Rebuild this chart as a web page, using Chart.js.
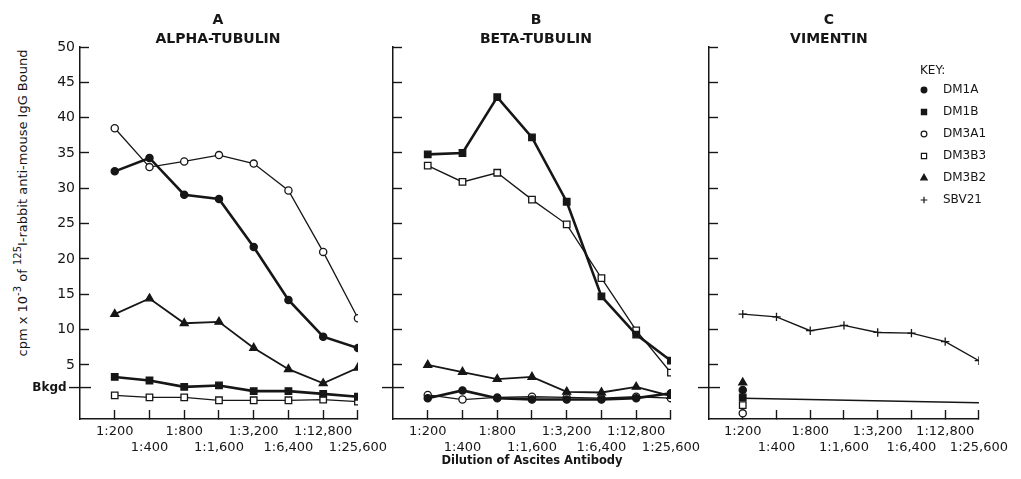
<!DOCTYPE html>
<html>
<head>
<meta charset="utf-8">
<title>Ascites antibody binding: alpha-tubulin, beta-tubulin, vimentin</title>
<script src="https://cdn.jsdelivr.net/npm/chart.js"></script>
<style>
  html, body { margin: 0; padding: 0; background: #fff; }
  #wrap { position: relative; width: 1021px; height: 479px; overflow: hidden; }
  canvas { position: absolute; top: 0; }
  #yTitle {
    position: absolute; left: 22px; top: 203px;
    transform: translate(-50%, -50%) rotate(-90deg);
    white-space: nowrap; font: 13px "DejaVu Sans"; color: #161616;
  }
  #yTitle sup { font-size: 10px; vertical-align: 6px; line-height: 0; }
</style>
</head>
<body>
<div id="wrap">
  <div id="yTitle">cpm x 10<sup>-3</sup> of <sup>125</sup>I-rabbit anti-mouse IgG Bound</div>
  <canvas id="alphaChart" width="400" height="479" style="left:0"></canvas>
  <canvas id="betaChart" width="400" height="479" style="left:313px"></canvas>
  <canvas id="vimentinChart" width="392" height="479" style="left:629px"></canvas>
</div>
<script>
// dilution steps on the x axis
const dilutions = ["1:200", "1:400", "1:800", "1:1,600", "1:3,200", "1:6,400", "1:12,800", "1:25,600"];

// background level and y ticks (cpm x 10^-3)
const BKGD = 1.8;
const yTicks = [BKGD, 5, 10, 15, 20, 25, 30, 35, 40, 45, 50];

// A: alpha-tubulin
const alphaDM1A  = [32.4, 34.3, 29.1, 28.5, 21.7, 14.2, 9.0, 7.4];
const alphaDM1B  = [3.3, 2.8, 1.9, 2.1, 1.3, 1.3, 0.9, 0.5];
const alphaDM3A1 = [38.5, 33.0, 33.8, 34.7, 33.5, 29.7, 21.0, 11.6];
const alphaDM3B3 = [0.7, 0.4, 0.4, 0.0, 0.0, 0.0, 0.1, -0.2];
const alphaDM3B2 = [12.2, 14.4, 10.9, 11.1, 7.4, 4.4, 2.4, 4.6];

// B: beta-tubulin
const betaDM1A  = [0.3, 1.4, 0.3, 0.1, 0.1, 0.1, 0.3, 1.0];
const betaDM1B  = [34.8, 35.0, 42.9, 37.2, 28.1, 14.7, 9.3, 5.6];
const betaDM3A1 = [0.75, 0.1, 0.4, 0.5, 0.4, 0.3, 0.5, 0.3];
const betaDM3B3 = [33.2, 30.9, 32.2, 28.4, 24.9, 17.3, 9.9, 3.9];
const betaDM3B2 = [5.0, 4.0, 3.0, 3.3, 1.2, 1.1, 1.9, 0.6];

// C: vimentin (tubulin antibodies only measured at 1:200)
const vimentinSBV21 = [12.2, 11.8, 9.85, 10.6, 9.6, 9.5, 8.3, 5.6];
const vimentinDM1A  = [1.45, null, null, null, null, null, null, null];
const vimentinDM1B  = [0.4, null, null, null, null, null, null, null];
const vimentinDM3A1 = [-1.85, null, null, null, null, null, null, null];
const vimentinDM3B3 = [-0.7, null, null, null, null, null, null, null];
const vimentinDM3B2 = [2.5, null, null, null, null, null, null, null];
const vimentinBkgdLine = [0.3, null, null, null, null, null, null, -0.35];

const keyNames = ["DM1A", "DM1B", "DM3A1", "DM3B3", "DM3B2", "SBV21"];

const INK = "#161616";
const FONT = '"DejaVu Sans"';

const markStyle = {
  DM1A:  { pointStyle: "circle",   radius: 3.6, fill: INK,    width: 2.6 },
  DM1B:  { pointStyle: "rect",     radius: 4.6, fill: INK,    width: 2.6 },
  DM3A1: { pointStyle: "circle",   radius: 3.6, fill: "#fff", width: 1.3 },
  DM3B3: { pointStyle: "rect",     radius: 4.6, fill: "#fff", width: 1.3 },
  DM3B2: { pointStyle: "triangle", radius: 4.6, fill: INK,    width: 1.8 },
  SBV21: { pointStyle: "cross",    radius: 4.2, fill: INK,    width: 1.4 }
};

function series(name, values, extra) {
  const s = markStyle[name];
  return Object.assign({
    label: name,
    data: values.map((v, i) => ({ x: i, y: v })),
    borderColor: INK,
    borderWidth: s.width,
    pointStyle: s.pointStyle,
    pointRadius: s.radius,
    pointBackgroundColor: s.fill,
    pointBorderColor: INK,
    pointBorderWidth: 1.3,
    tension: 0
  }, extra || {});
}

// panel headings, the Bkgd mark across the y axis, and the key
const panelText = {
  id: "panelText",
  afterDraw(chart, args, o) {
    const { ctx, chartArea, scales } = chart;
    ctx.save();
    ctx.fillStyle = INK;
    ctx.strokeStyle = INK;
    ctx.textAlign = "center";
    ctx.textBaseline = "middle";
    ctx.font = "bold 14px " + FONT;
    const cx = (chartArea.left + chartArea.right) / 2 + (o.dx || 0);
    ctx.fillText(o.letter, cx, 20);
    ctx.fillText(o.name, cx, 39);

    const yb = scales.y.getPixelForValue(BKGD);
    ctx.lineWidth = 1.4;
    ctx.beginPath();
    ctx.moveTo(chartArea.left - 11, yb);
    ctx.lineTo(chartArea.left + 11, yb);
    ctx.stroke();

    if (o.key) {
      const kx = chartArea.left + 215;
      ctx.textAlign = "left";
      ctx.font = "12px " + FONT;
      ctx.fillText("KEY:", kx - 4, 71);
      keyNames.forEach((name, i) => {
        const s = markStyle[name];
        const ky = 90 + 22 * i;
        ctx.fillStyle = s.fill;
        ctx.lineWidth = 1.2;
        Chart.helpers.drawPoint(ctx, { pointStyle: s.pointStyle, radius: s.radius * 0.8, rotation: 0, borderWidth: 1.2 }, kx, ky);
        ctx.fillStyle = INK;
        ctx.fillText(name, kx + 19, ky);
      });
    }
    ctx.restore();
  }
};

function makePanel(id, datasets, text, showYLabels, xTitle) {
  new Chart(document.getElementById(id), {
    type: "line",
    data: { datasets: datasets },
    plugins: [panelText],
    options: {
      responsive: false,
      animation: false,
      layout: { padding: { top: 47, right: id === "vimentinChart" ? 30 : 38, left: 0, bottom: 0 } },
      plugins: {
        legend: { display: false },
        tooltip: { enabled: false },
        panelText: text
      },
      scales: {
        x: {
          type: "linear",
          min: -1,
          max: 7,
          afterBuildTicks: (s) => { s.ticks = dilutions.map((d, i) => ({ value: i })); },
          afterFit: (s) => { s.height = 60; },
          grid: { drawOnChartArea: false, tickLength: -9, tickWidth: 1.4, tickColor: INK },
          border: { color: INK, width: 1.5 },
          ticks: {
            color: INK,
            padding: 13,
            autoSkip: false,
            maxRotation: 0,
            font: { family: FONT, size: 13, lineHeight: 1.25 },
            callback: (v) => (v % 2 === 0 ? [dilutions[v], ""] : ["", dilutions[v]])
          },
          title: {
            display: !!xTitle,
            text: xTitle || "",
            color: INK,
            font: { family: FONT, size: 11.5, weight: "bold" },
            padding: { top: 0, bottom: 11 }
          }
        },
        y: {
          min: -2.65,
          max: 50,
          afterBuildTicks: (s) => { s.ticks = yTicks.map((v) => ({ value: v })); },
          afterFit: (s) => { s.width = 80; },
          grid: {
            drawOnChartArea: false,
            tickLength: -9,
            tickWidth: 1.4,
            tickColor: (c) => (c.tick && c.tick.value === BKGD ? "rgba(0,0,0,0)" : INK)
          },
          border: { color: INK, width: 1.5 },
          ticks: {
            display: showYLabels,
            color: INK,
            padding: 14,
            font: (c) => (c.tick && c.tick.value === BKGD
              ? { family: FONT, size: 12, weight: "bold" }
              : { family: FONT, size: 14 }),
            callback: (v) => (v === BKGD ? "Bkgd  " : String(v))
          }
        }
      }
    }
  });
}

makePanel("alphaChart", [
  series("DM1A", alphaDM1A),
  series("DM1B", alphaDM1B),
  series("DM3A1", alphaDM3A1),
  series("DM3B3", alphaDM3B3),
  series("DM3B2", alphaDM3B2)
], { letter: "A", name: "ALPHA-TUBULIN", dx: -1 }, true, "");

makePanel("betaChart", [
  series("DM1B", betaDM1B),
  series("DM3B3", betaDM3B3),
  series("DM3B2", betaDM3B2),
  series("DM1A", betaDM1A),
  series("DM3A1", betaDM3A1)
], { letter: "B", name: "BETA-TUBULIN", dx: 4 }, false, "Dilution of Ascites Antibody");

makePanel("vimentinChart", [
  series("SBV21", vimentinSBV21),
  series("DM3B2", vimentinDM3B2),
  series("DM1A", vimentinDM1A),
  series("DM1B", vimentinDM1B),
  series("DM3B3", vimentinDM3B3),
  series("DM3A1", vimentinDM3A1),
  { label: "background", data: vimentinBkgdLine.map((v, i) => ({ x: i, y: v })), borderColor: INK, borderWidth: 1.5, pointRadius: 0, spanGaps: true }
], { letter: "C", name: "VIMENTIN", dx: -15, key: true }, false, "");
</script>
</body>
</html>
